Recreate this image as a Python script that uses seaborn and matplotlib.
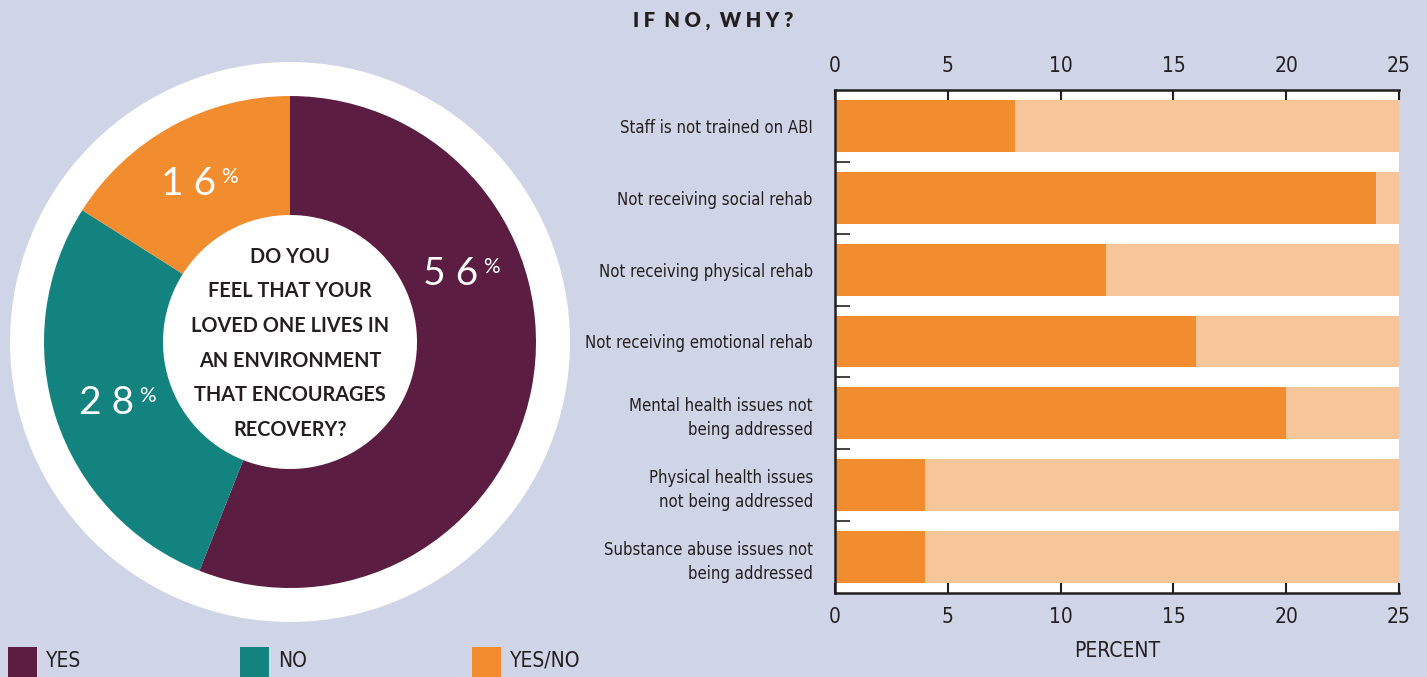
import matplotlib
matplotlib.use("Agg")
import matplotlib.pyplot as plt
from matplotlib.patches import Circle, Rectangle
from matplotlib.ticker import FixedLocator
import numpy as np
import pandas as pd
import seaborn as sns

# Donut: answers to the environment question
answer_labels = ["YES", "NO", "YES/NO"]
answer_shares = [56, 28, 16]
answer_colors = ["#5C1D43", "#138380", "#F28D2F"]

question_lines = [
    "DO YOU",
    "FEEL THAT YOUR",
    "LOVED ONE LIVES IN",
    "AN ENVIRONMENT",
    "THAT ENCOURAGES",
    "RECOVERY?",
]

# Bars: reasons given by those who answered no
reasons = [
    "Staff is not trained on ABI",
    "Not receiving social rehab",
    "Not receiving physical rehab",
    "Not receiving emotional rehab",
    "Mental health issues not\nbeing addressed",
    "Physical health issues\nnot being addressed",
    "Substance abuse issues not\nbeing addressed",
]
reason_percent = [8, 24, 12, 16, 20, 4, 4]
percent_ticks = [0, 5, 10, 15, 20, 25]

BG = "#CFD4E6"
INK = "#231F20"
BAR_DARK = "#F28D2F"
BAR_LIGHT = "#F7C59A"
NARROW = ["DejaVu Sans Condensed", "Liberation Sans Narrow", "DejaVu Sans"]
GEO = ["Lato", "DejaVu Sans"]

sns.set_theme(style="white")
plt.rcParams["font.family"] = NARROW
plt.rcParams["font.stretch"] = "condensed"

W, H = 1427, 677
fig = plt.figure(figsize=(W / 100, H / 100), dpi=100, facecolor=BG)

# ---- donut, drawn in an axes whose units are pixels (y upward)
pax = fig.add_axes([0, 0, 600 / W, 1])
cx, cy = 290, H - 342
pax.add_patch(Circle((cx, cy), 280, facecolor="white", edgecolor="none", zorder=0))
pax.pie(answer_shares, colors=answer_colors, startangle=90, counterclock=False,
        radius=246, center=(cx, cy),
        wedgeprops=dict(width=119, edgecolor="none", linewidth=0))
pax.set_xlim(0, 600)
pax.set_ylim(0, H)
pax.set_aspect("equal")
pax.axis("off")

# share labels: right edge of the digits and their baseline (pixels from top)
label_anchor = [(478, 285), (134, 414), (216, 195)]
for share, (lx, ly) in zip(answer_shares, label_anchor):
    pax.text(lx, H - ly, " ".join(str(share)), ha="right", va="baseline",
             fontsize=28, family=GEO, fontweight="normal", color="white")
    pax.text(lx + 5, H - ly + 12, "%", ha="left", va="baseline",
             fontsize=15, family=GEO, fontweight="normal", color="white")

for i, line in enumerate(question_lines):
    pax.text(cx, H - (256 + i * 34.6 + 6.8), line, ha="center", va="baseline",
             fontsize=14.3, fontweight="bold", family=GEO, color=INK)

# legend along the bottom edge
for i, (lab, col) in enumerate(zip(answer_labels, answer_colors)):
    x0 = 8 + i * 232
    fig.patches.append(Rectangle((x0 / W, 0), 29 / W, (H - 647) / H,
                                 transform=fig.transFigure, facecolor=col,
                                 edgecolor="none"))
    fig.text((x0 + 38) / W, 1 - 661 / H, lab, ha="left", va="center",
             fontsize=15, color=INK)

# ---- horizontal bars
bax = fig.add_axes([835 / W, 84 / H, 564 / W, 503 / H])
bax.set_facecolor("white")
df = pd.DataFrame({"reason": reasons, "percent": reason_percent})
df["scale"] = percent_ticks[-1]
sns.barplot(data=df, x="scale", y="reason", color=BAR_LIGHT, width=0.72,
            saturation=1, linewidth=0, ax=bax)
sns.barplot(data=df, x="percent", y="reason", color=BAR_DARK, width=0.72,
            saturation=1, linewidth=0, ax=bax)

bax.set_xlim(percent_ticks[0], percent_ticks[-1])
bax.set_xticks(percent_ticks)
bax.tick_params(axis="x", which="major", direction="in", length=7.5, width=1.5,
                top=True, bottom=True, labeltop=True, labelbottom=True,
                pad=10, labelsize=15, colors=INK)
bax.yaxis.set_minor_locator(FixedLocator(np.arange(0.5, len(reasons) - 1, 1)))
bax.tick_params(axis="y", which="minor", direction="in", length=11, width=1.2,
                left=True, color=INK)
bax.tick_params(axis="y", which="major", length=0, pad=16, labelsize=12,
                labelcolor=INK)
for lbl in bax.get_yticklabels():
    lbl.set_linespacing(1.4)
for side in ["top", "bottom", "left"]:
    bax.spines[side].set_color(INK)
    bax.spines[side].set_linewidth(1.8)
bax.spines["right"].set_visible(False)
bax.set_ylabel("")
bax.set_xlabel("PERCENT", fontsize=15, labelpad=10, color=INK)

fig.text(633 / W, 1 - 20 / H, "I F  N O ,  W H Y ?", ha="left", va="center",
         fontsize=14.5, fontweight="heavy", family=GEO, color=INK)

fig.savefig("out.png", dpi=100, facecolor=BG)
